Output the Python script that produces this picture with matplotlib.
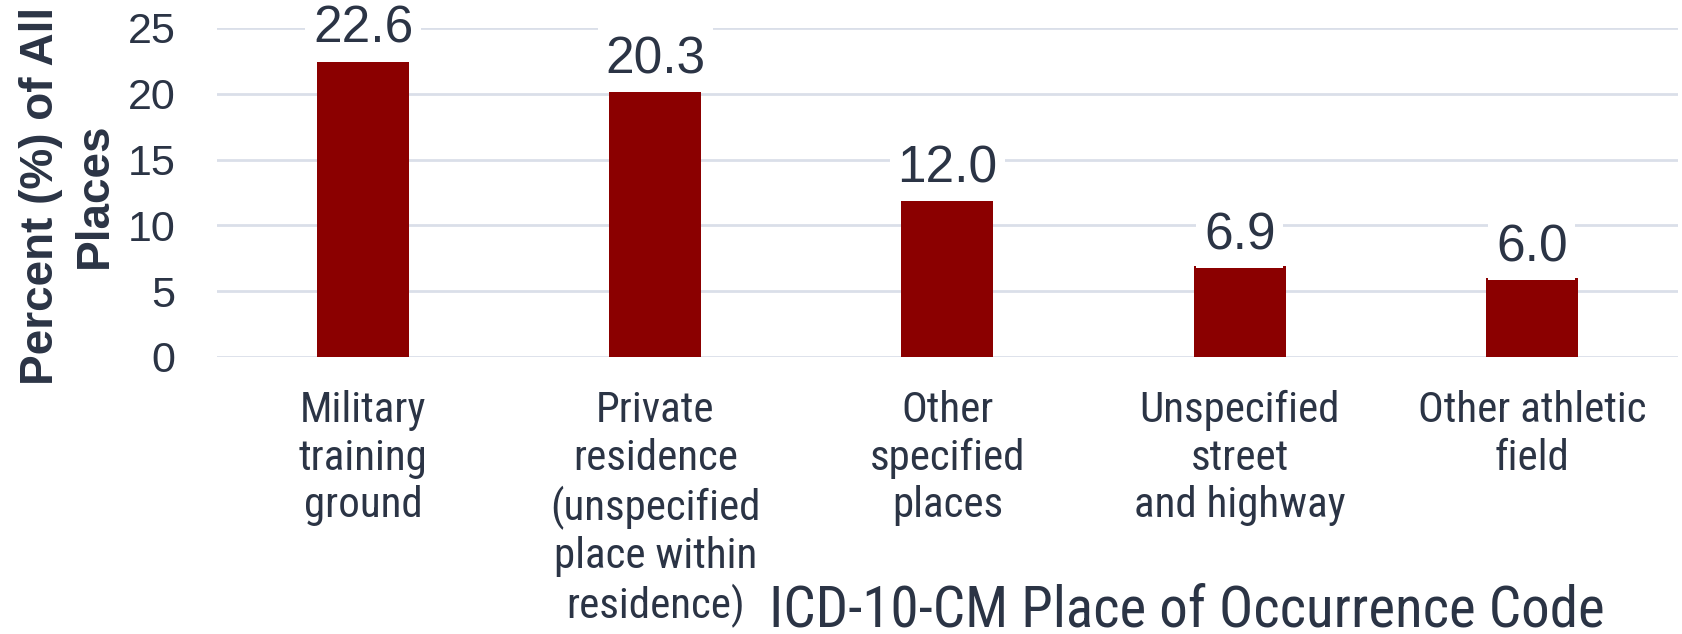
import matplotlib
matplotlib.use("Agg")
import matplotlib.pyplot as plt
from matplotlib import font_manager

# Data
categories = [
    "Military\ntraining\nground",
    "Private\nresidence\n(unspecified\nplace within\nresidence)",
    "Other\nspecified\nplaces",
    "Unspecified\nstreet\nand highway",
    "Other athletic\nfield",
]
percents = [22.6, 20.3, 12.0, 6.9, 6.0]
yticks = [0, 5, 10, 15, 20, 25]

text_col = "#2b3445"
bar_col = "#8b0000"
grid_col = "#dadfe9"

# pick a narrow face for the category labels if one is installed
names = sorted({f.name for f in font_manager.fontManager.ttflist})
narrow = None
for cand in ["Roboto Condensed", "Liberation Sans Narrow", "Open Sans Condensed",
             "DejaVu Sans Condensed", "Noto Sans Condensed"]:
    if cand in names:
        narrow = cand
        break
narrow_kw = {"family": narrow} if narrow else {"family": "DejaVu Sans", "stretch": "condensed"}

plt.rcParams["font.family"] = ["Liberation Sans", "DejaVu Sans"]

fig = plt.figure(figsize=(16.82, 6.34), dpi=100)
ax = fig.add_axes([0.129, 0.437, 0.8686, 0.519])

x = list(range(len(categories)))
bars = ax.bar(x, percents, width=0.315, color=bar_col, zorder=2)

for xi, v in zip(x, percents):
    ax.annotate(f"{v:.1f}", (xi, v), xytext=(0, 12), textcoords="offset points",
                ha="center", va="baseline", fontsize=37, color=text_col, zorder=3,
                bbox=dict(boxstyle="square,pad=0.15", fc="white", ec="none"))

ax.set_xlim(-0.5, len(categories) - 0.5)
ax.set_ylim(0, 25)
ax.set_yticks(yticks)
ax.yaxis.grid(True, color=grid_col, linewidth=2, zorder=0)
ax.set_axisbelow(True)
for s in ax.spines.values():
    s.set_visible(False)
ax.tick_params(axis="both", length=0, colors=text_col)
ax.tick_params(axis="y", labelsize=31, pad=30)

ax.set_xticks(x)
ax.set_xticklabels(categories, fontsize=31, color=text_col, linespacing=1.2, **narrow_kw)
ax.tick_params(axis="x", pad=24)

ax.set_ylabel("Percent (%) of All\nPlaces", fontsize=33, fontweight="bold",
              color=text_col, linespacing=1.3, va="center")
ax.yaxis.set_label_coords(-0.102, 0.49)

ax.set_xlabel("ICD-10-CM Place of Occurrence Code", fontsize=41, color=text_col,
              va="center", **narrow_kw)
ax.xaxis.set_label_coords(0.664, -0.772)

fig.savefig("out.png", dpi=100, facecolor="white")
